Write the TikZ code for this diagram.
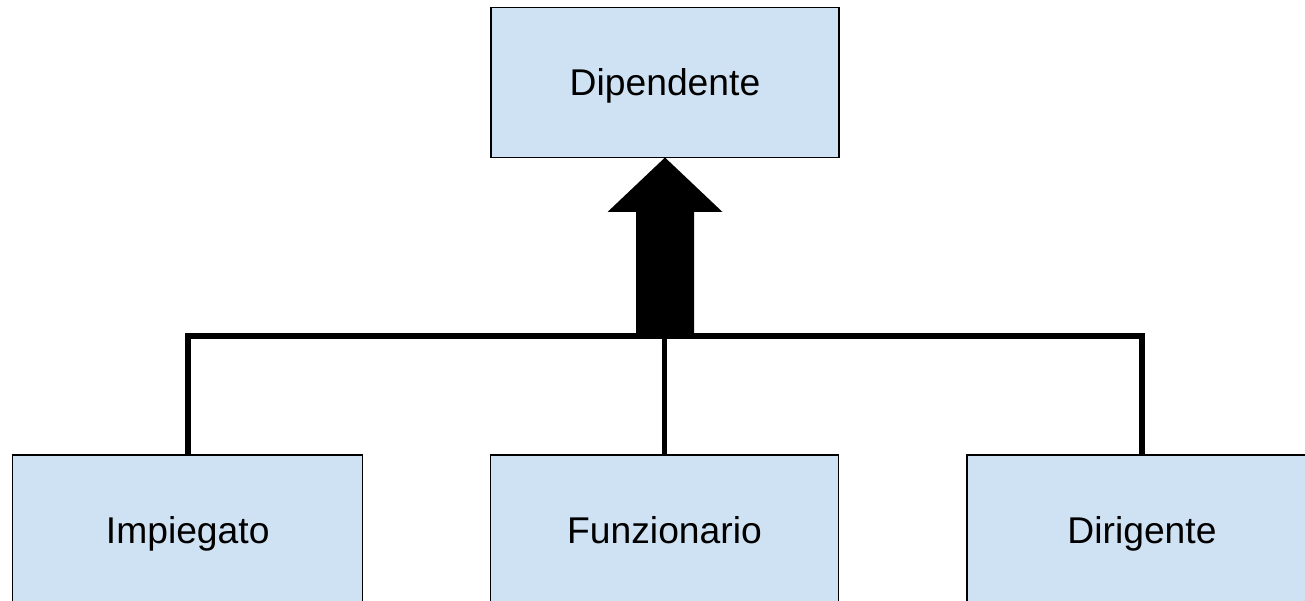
\documentclass[tikz,border=0pt]{standalone}
\usepackage{fontspec}
\setmainfont{Liberation Sans}
\definecolor{boxblue}{RGB}{207,226,243}
\usetikzlibrary{positioning,calc}

\begin{document}
\begin{tikzpicture}[
    box/.style={draw, fill=boxblue, line width=0.4pt, minimum width=3.48cm,
        minimum height=1.5cm, inner sep=0pt, outer sep=0pt,
        text height=0.26cm, text depth=0pt,
        font=\fontsize{10.6}{12}\selectfont},
    link/.style={line width=1.6pt}
]
    % Frame
    \useasboundingbox (0,0) rectangle (13.05,-6.01);
    \clip (0,0) rectangle (13.05,-6.01);

    % Boxes
    \node[box] (dip) at (6.65,-0.825) {Dipendente};
    \node[box, minimum width=3.5cm] (imp) at (1.877,-5.30) {Impiegato};
    \node[box] (fun) at (6.645,-5.30) {Funzionario};
    \node[box, minimum width=3.5cm] (dir) at (11.42,-5.30) {Dirigente};

    % Hierarchy lines
    \coordinate (hub) at (6.65,-3.36);
    \draw[link] (imp.north) |- (hub) -| (dir.north);
    \draw[link] (fun.north) -- (fun.north |- hub);

    % Fat arrow
    \fill (hub) ++(-0.29,0) -- ++(0,1.24) -- ++(-0.285,0) -- (dip.south)
        -- ++(0.575,-0.545) -- ++(-0.285,0) -- ++(0,-1.24) -- cycle;
\end{tikzpicture}
\end{document}
